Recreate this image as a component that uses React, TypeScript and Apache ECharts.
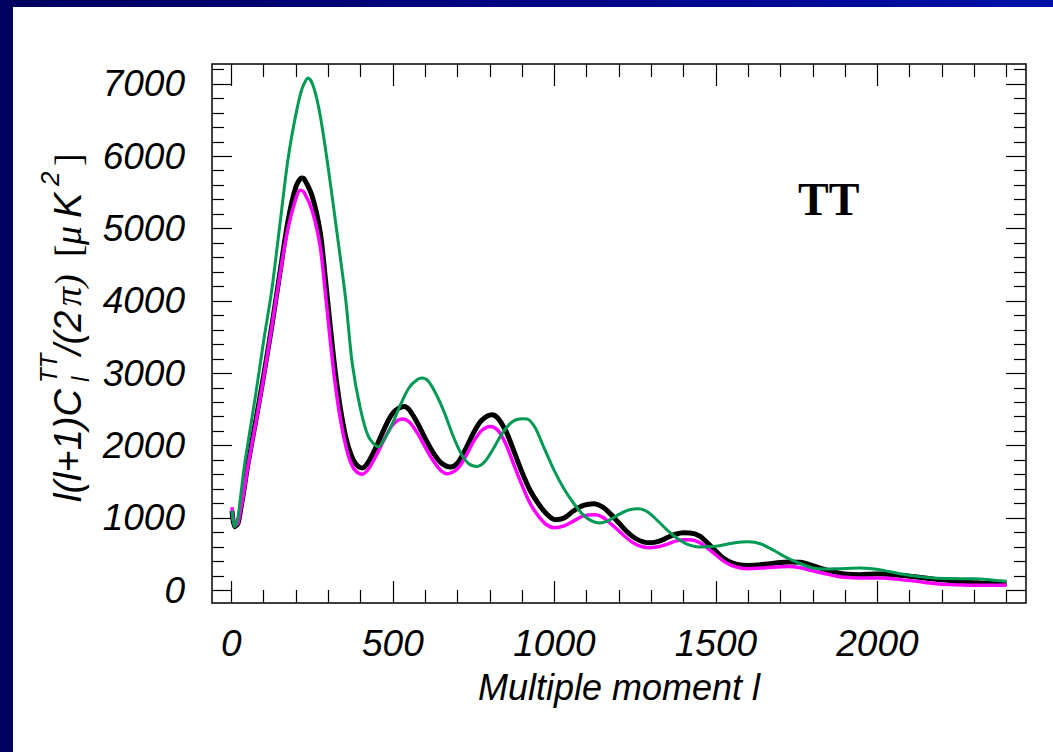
import React, { useEffect, useRef } from "react";
import * as echarts from "echarts";

// multipole moment l and D_l values for each curve
const L_BLACK = [2, 10, 20, 30, 40, 50, 75, 100, 125, 150, 175, 200, 218, 225, 250, 275, 290, 305, 320, 338, 355, 370, 385, 405, 425, 450, 475, 500, 534, 550, 575, 600, 625, 650, 678, 700, 725, 750, 775, 807, 825, 850, 875, 900, 925, 950, 975, 1003, 1030, 1060, 1090, 1122, 1150, 1175, 1200, 1225, 1250, 1275, 1297, 1325, 1350, 1375, 1400, 1420, 1450, 1475, 1500, 1525, 1550, 1575, 1600, 1650, 1700, 1725, 1761, 1800, 1838, 1875, 1900, 1946, 1990, 2018, 2060, 2122, 2175, 2225, 2275, 2318, 2360, 2400];
const V_BLACK = [1100, 880, 920, 1150, 1420, 1713, 2330, 2970, 3650, 4380, 5100, 5580, 5700, 5690, 5450, 4950, 4350, 3700, 3080, 2500, 2100, 1880, 1750, 1691, 1780, 2000, 2250, 2450, 2542, 2500, 2320, 2100, 1900, 1760, 1705, 1760, 1950, 2180, 2350, 2427, 2380, 2200, 1920, 1630, 1380, 1200, 1060, 976, 1000, 1100, 1175, 1198, 1150, 1050, 930, 810, 720, 670, 657, 680, 730, 775, 795, 793, 750, 650, 540, 440, 380, 350, 345, 360, 385, 390, 387, 340, 286, 245, 225, 217, 225, 226, 212, 185, 155, 134, 112, 102, 95, 92];

const L_MAGENTA = [2, 10, 20, 30, 40, 50, 75, 100, 125, 150, 175, 200, 213, 225, 250, 275, 290, 305, 320, 338, 355, 370, 385, 405, 425, 450, 475, 500, 529, 550, 575, 600, 625, 650, 668, 700, 725, 750, 775, 802, 825, 850, 875, 900, 925, 950, 975, 1000, 1030, 1060, 1090, 1127, 1150, 1175, 1200, 1225, 1250, 1275, 1297, 1325, 1350, 1375, 1400, 1420, 1450, 1475, 1500, 1525, 1550, 1575, 1600, 1650, 1700, 1725, 1761, 1800, 1838, 1875, 1900, 1946, 1990, 2018, 2060, 2122, 2175, 2225, 2275, 2318, 2360, 2400];
const V_MAGENTA = [1150, 890, 930, 1150, 1400, 1690, 2300, 2940, 3640, 4350, 5000, 5420, 5530, 5500, 5250, 4750, 4150, 3500, 2900, 2350, 1980, 1760, 1650, 1605, 1680, 1880, 2100, 2290, 2368, 2330, 2180, 1980, 1790, 1650, 1612, 1680, 1850, 2060, 2210, 2266, 2210, 2020, 1730, 1450, 1200, 1030, 910, 865, 890, 960, 1030, 1046, 1010, 920, 820, 720, 640, 600, 590, 605, 640, 680, 700, 700, 660, 580, 490, 400, 340, 310, 300, 310, 325, 330, 313, 270, 230, 195, 180, 171, 170, 171, 155, 124, 95, 79, 72, 69, 70, 74];

const L_GREEN = [2, 10, 20, 30, 40, 50, 75, 100, 125, 150, 175, 200, 220, 238, 255, 274, 298, 326, 354, 374, 398, 424, 455, 475, 500, 525, 550, 575, 591, 610, 635, 660, 685, 710, 735, 761, 785, 810, 840, 870, 900, 915, 940, 965, 1000, 1030, 1060, 1090, 1115, 1142, 1170, 1200, 1230, 1261, 1290, 1320, 1350, 1380, 1410, 1450, 1500, 1550, 1600, 1640, 1680, 1720, 1761, 1800, 1838, 1880, 1946, 1990, 2018, 2070, 2122, 2175, 2225, 2275, 2318, 2360, 2400];
const V_GREEN = [1100, 880, 1000, 1350, 1713, 2000, 2700, 3450, 4150, 5050, 5950, 6586, 6950, 7080, 6950, 6586, 5895, 4974, 4016, 3140, 2540, 2128, 1985, 2100, 2320, 2580, 2800, 2910, 2934, 2890, 2700, 2450, 2150, 1900, 1750, 1713, 1780, 1950, 2180, 2330, 2370, 2368, 2250, 2000, 1650, 1400, 1200, 1040, 960, 931, 970, 1050, 1110, 1129, 1080, 960, 830, 720, 640, 600, 610, 650, 670, 640, 550, 450, 369, 310, 295, 300, 309, 295, 276, 230, 193, 170, 162, 160, 157, 140, 124];

const X_MAJOR = [0, 500, 1000, 1500, 2000];
const X_LABELS = [0, 500, 1000, 1500, 2000];
const X_MINOR = [100, 200, 300, 400, 600, 700, 800, 900, 1100, 1200, 1300, 1400, 1600, 1700, 1800, 1900, 2100, 2200, 2300, 2400];
const Y_MAJOR = [0, 1000, 2000, 3000, 4000, 5000, 6000, 7000];
const Y_MINOR = [200, 400, 600, 800, 1200, 1400, 1600, 1800, 2200, 2400, 2600, 2800, 3200, 3400, 3600, 3800, 4200, 4400, 4600, 4800, 5200, 5400, 5600, 5800, 6200, 6400, 6600, 6800, 7200];

const X_MIN = -60;
const X_MAX = 2460;
const Y_MIN = -175;
const Y_MAX = 7275;

const SANS = "'Liberation Sans', Arial, sans-serif";
const SERIF = "'Liberation Serif', 'Times New Roman', serif";

function pairs(ls: number[], vs: number[]) {
  return ls.map((l, i) => [l, vs[i]]);
}

export default function App() {
  const ref = useRef<HTMLDivElement>(null);
  useEffect(() => {
    if (!ref.current) return;
    const chart = echarts.init(ref.current, undefined, { renderer: "svg" });
    const tickLine = { color: "#000", width: 1.2 };
    const noLine = { show: false, onZero: false };
    const fmt = (v: number) => String(v);
    const baseX = { type: "value", min: X_MIN, max: X_MAX, splitLine: { show: false } };
    const baseY = { type: "value", min: Y_MIN, max: Y_MAX, splitLine: { show: false } };
    const option: any = {
      animation: false,
      backgroundColor: "transparent",
      grid: { left: 212, top: 64, right: 27, bottom: 149, show: true, borderColor: "#000", borderWidth: 1.5, backgroundColor: "transparent" },
      xAxis: [
        {
          ...baseX, position: "bottom",
          axisLine: noLine,
          axisTick: { inside: true, length: 22, lineStyle: tickLine, customValues: X_MAJOR },
          axisLabel: { customValues: X_LABELS, formatter: fmt, margin: 22, fontSize: 37, fontStyle: "italic", fontFamily: SANS, color: "#000" },
          name: "Multiple moment l", nameLocation: "middle", nameGap: 66,
          nameTextStyle: { fontSize: 36, fontStyle: "italic", fontFamily: SANS, color: "#000" },
        },
        { ...baseX, position: "bottom", axisLine: noLine, axisLabel: { show: false },
          axisTick: { inside: true, length: 13, lineStyle: tickLine, customValues: X_MINOR } },
        { ...baseX, position: "top", axisLine: noLine, axisLabel: { show: false },
          axisTick: { inside: true, length: 22, lineStyle: tickLine, customValues: X_MAJOR } },
        { ...baseX, position: "top", axisLine: noLine, axisLabel: { show: false },
          axisTick: { inside: true, length: 13, lineStyle: tickLine, customValues: X_MINOR } },
      ],
      yAxis: [
        {
          ...baseY, position: "left",
          axisLine: noLine,
          axisTick: { inside: true, length: 20, lineStyle: tickLine, customValues: Y_MAJOR },
          axisLabel: { customValues: Y_MAJOR, formatter: fmt, margin: 27, fontSize: 37, fontStyle: "italic", fontFamily: SANS, color: "#000" },
        },
        { ...baseY, position: "left", axisLine: noLine, axisLabel: { show: false },
          axisTick: { inside: true, length: 12, lineStyle: tickLine, customValues: Y_MINOR } },
        { ...baseY, position: "right", axisLine: noLine, axisLabel: { show: false },
          axisTick: { inside: true, length: 20, lineStyle: tickLine, customValues: Y_MAJOR } },
        { ...baseY, position: "right", axisLine: noLine, axisLabel: { show: false },
          axisTick: { inside: true, length: 12, lineStyle: tickLine, customValues: Y_MINOR } },
      ],
      series: [
        { name: "black", type: "line", data: pairs(L_BLACK, V_BLACK), smooth: 0.3, showSymbol: false,
          lineStyle: { color: "#000", width: 5 }, z: 3 },
        { name: "magenta", type: "line", data: pairs(L_MAGENTA, V_MAGENTA), smooth: 0.3, showSymbol: false,
          lineStyle: { color: "#ff00ff", width: 3.5 }, z: 4 },
        { name: "green", type: "line", data: pairs(L_GREEN, V_GREEN), smooth: 0.3, showSymbol: false,
          lineStyle: { color: "#009a55", width: 3 }, z: 5 },
      ],
      graphic: [
        { type: "text", left: 798, top: 176, style: { text: "TT", font: `bold 46px ${SERIF}`, fill: "#000" } },
        {
          type: "group", x: 68, y: 502, rotation: Math.PI / 2,
          children: [
            { type: "text", x: 0, y: 0, style: { text: "l(l+1)C", font: `italic 38px ${SANS}`, fill: "#000", verticalAlign: "middle" } },
            { type: "text", x: 120, y: 12, style: { text: "l", font: `italic 24px ${SANS}`, fill: "#000", verticalAlign: "middle" } },
            { type: "text", x: 119, y: -20, style: { text: "TT", font: `italic 24px ${SANS}`, fill: "#000", verticalAlign: "middle" } },
            { type: "text", x: 147, y: 0, style: { text: "/(2", font: `italic 38px ${SANS}`, fill: "#000", verticalAlign: "middle" } },
            { type: "text", x: 196, y: 0, style: { text: "π)", font: `italic 38px ${SERIF}`, fill: "#000", verticalAlign: "middle" } },
            { type: "text", x: 245, y: 0, style: { text: "[", font: `38px ${SERIF}`, fill: "#000", verticalAlign: "middle" } },
            { type: "text", x: 257, y: 0, style: { text: "μ", font: `italic 38px ${SERIF}`, fill: "#000", verticalAlign: "middle" } },
            { type: "text", x: 284, y: 0, style: { text: "K", font: `italic 38px ${SANS}`, fill: "#000", verticalAlign: "middle" } },
            { type: "text", x: 316, y: -18, style: { text: "2", font: `italic 26px ${SANS}`, fill: "#000", verticalAlign: "middle" } },
            { type: "text", x: 336, y: 0, style: { text: "]", font: `38px ${SERIF}`, fill: "#000", verticalAlign: "middle" } },
          ],
        },
      ],
    };
    chart.setOption(option);
    return () => chart.dispose();
  }, []);
  return (
    <div style={{ position: "fixed", left: 0, top: 0, width: 1053, height: 752, overflow: "hidden",
      background: "linear-gradient(90deg, #000060 0%, #00047a 40%, #0010a8 100%)" }}>
      <div style={{ position: "absolute", left: 13, top: 7, right: 0, bottom: 0, background: "#fff" }} />
      <div ref={ref} style={{ position: "absolute", left: 0, top: 0, width: 1053, height: 752 }} />
    </div>
  );
}
